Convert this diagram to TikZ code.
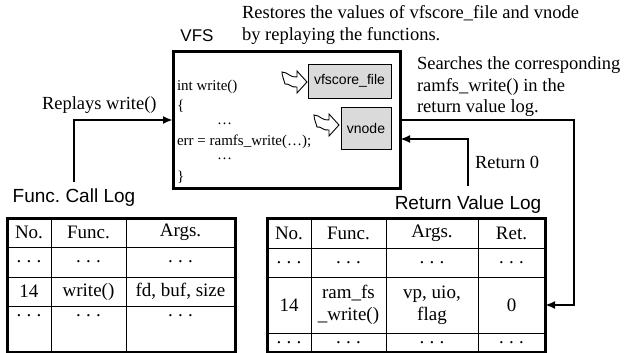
\documentclass[tikz,border=0pt]{standalone}
\usepackage{fontspec}
\setmainfont{Liberation Serif}
\setsansfont{Liberation Sans}
\usetikzlibrary{arrows.meta}
\definecolor{boxgray}{RGB}{218,218,218}
\newcommand\tdots{.\kern.28em.\kern.28em.}
\frenchspacing
\begin{document}
\begin{tikzpicture}[x=1pt,y=-1pt,
  every node/.style={inner sep=0pt, outer sep=0pt},
  note/.style={font=\fontsize{18.5}{22}\selectfont, anchor=west},
  codeline/.style={font=\fontsize{15}{18}\selectfont, anchor=west},
  title/.style={font=\sffamily\fontsize{19}{22}\selectfont},
  vfsbox/.style={draw, line width=3pt},
  fieldbox/.style={draw, line width=0.8pt, fill=boxgray,
    font=\sffamily\fontsize{14}{16}\selectfont},
  conn/.style={line width=2pt, -{Latex[length=10pt,width=8pt]}},
  cell/.style={draw, line width=1pt, font=\fontsize{19}{22}\selectfont, align=center},
  frame/.style={draw, line width=3pt},
  hollow/.style={draw, line width=0.9pt, fill=white, line join=miter},
  pics/wavyarrow/.style={code={
    \path[hollow] (-25,-10) .. controls (-19,-10) and (-17,-4) .. (-10,-5)
      -- (-10,-11) -- (0,0) -- (-10,11) -- (-10,5)
      .. controls (-16,6) and (-18,1) .. (-22,2)
      .. controls (-23,-2) and (-25,-6) .. cycle;
  }},
]
\useasboundingbox (0,0) rectangle (624,353);

% file system layer with the replayed code
\node[vfsbox, minimum width=227, minimum height=136] (vfs) at (286.5,120) {};
\node[title, font=\sffamily\fontsize{17}{20}\selectfont] (vfstitle) at (197,36) {VFS};
\node[codeline] (c1) at (177,87) {int write()};
\node[codeline] (c2) at (177,106) {\{};
\node[codeline] (c3) at (217,124) {…};
\node[codeline] (c4) at (177,142) {err = ramfs\_write(…);};
\node[codeline] (c5) at (217,159) {…};
\node[codeline] (c6) at (177,177) {\}};

% restored state
\node[fieldbox, minimum width=83, minimum height=34] (vfile) at (349.5,81) {vfscore\_file};
\node[fieldbox, minimum width=50, minimum height=42] (vnode) at (366,128) {vnode};
\pic at (307,82) {wavyarrow};
\pic at (339,125) {wavyarrow};

% annotations
\node[note] (restore1) at (242,13) {Restores the values of vfscore\_file and vnode};
\node[note] (restore2) at (242,36) {by replaying the functions.};
\node[note] (search1) at (417,65) {Searches the corresponding};
\node[note] (search2) at (417,87) {ramfs\_write() in the};
\node[note] (search3) at (417,108) {return value log.};
\node[note] (replay) at (42,105) {Replays write()};
\node[note] (ret0) at (475,162) {Return 0};

% function call log
\node[title] (fcl) at (74,198) {Func. Call Log};
\node[cell, minimum width=44, minimum height=29] (f11) at (29,232.5) {No.};
\node[cell, minimum width=75, minimum height=29] (f12) at (88.5,232.5) {Func.};
\node[cell, minimum width=109, minimum height=29] (f13) at (180.5,232.5) {Args.};
\node[cell, minimum width=44, minimum height=30] (f21) at (29,262) {\tdots};
\node[cell, minimum width=75, minimum height=30] (f22) at (88.5,262) {\tdots};
\node[cell, minimum width=109, minimum height=30] (f23) at (180.5,262) {\tdots};
\node[cell, minimum width=44, minimum height=29] (f31) at (29,291.5) {14};
\node[cell, minimum width=75, minimum height=29] (f32) at (88.5,291.5) {write()};
\node[cell, minimum width=109, minimum height=29] (f33) at (180.5,291.5) {fd, buf, size};
\node[cell, minimum width=44, minimum height=46, text depth=26pt] (f41) at (29,329) {\tdots};
\node[cell, minimum width=75, minimum height=46, text depth=26pt] (f42) at (88.5,329) {\tdots};
\node[cell, minimum width=109, minimum height=46, text depth=26pt] (f43) at (180.5,329) {\tdots};
\draw[frame] (f11.north west) rectangle (f43.south east);

% return value log
\node[title] (rvl) at (468,205) {Return Value Log};
\node[cell, minimum width=44, minimum height=30] (r11) at (289,233) {No.};
\node[cell, minimum width=75, minimum height=30] (r12) at (348.5,233) {Func.};
\node[cell, minimum width=92, minimum height=30] (r13) at (432,233) {Args.};
\node[cell, minimum width=67, minimum height=30] (r14) at (511.5,233) {Ret.};
\node[cell, minimum width=44, minimum height=29] (r21) at (289,262.5) {\tdots};
\node[cell, minimum width=75, minimum height=29] (r22) at (348.5,262.5) {\tdots};
\node[cell, minimum width=92, minimum height=29] (r23) at (432,262.5) {\tdots};
\node[cell, minimum width=67, minimum height=29] (r24) at (511.5,262.5) {\tdots};
\node[cell, minimum width=44, minimum height=56] (r31) at (289,305) {14};
\node[cell, minimum width=75, minimum height=56] (r32) at (348.5,305) {ram\_fs\\\_write()};
\node[cell, minimum width=92, minimum height=56] (r33) at (432,305) {vp, uio,\\flag};
\node[cell, minimum width=67, minimum height=56] (r34) at (511.5,305) {0};
\node[cell, minimum width=44, minimum height=19] (r41) at (289,342.5) {\tdots};
\node[cell, minimum width=75, minimum height=19] (r42) at (348.5,342.5) {\tdots};
\node[cell, minimum width=92, minimum height=19] (r43) at (432,342.5) {\tdots};
\node[cell, minimum width=67, minimum height=19] (r44) at (511.5,342.5) {\tdots};
\draw[frame] (r11.north west) rectangle (r44.south east);

% connectors
\coordinate (vfsret) at (400,139);
\draw[conn, shorten <=7pt] (fcl.north) |- (vfs.west);
\draw[conn] (vfs.east) -- ++(174,0) |- (r34.east);
\draw[conn, shorten <=10pt] (rvl.north) |- (vfsret);
\end{tikzpicture}
\end{document}
